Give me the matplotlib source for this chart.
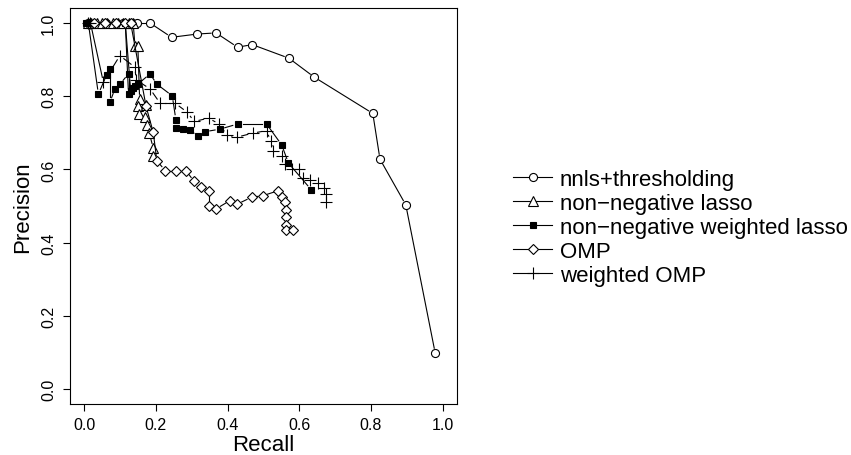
import matplotlib
matplotlib.use('Agg')
import matplotlib.pyplot as plt
from matplotlib.lines import Line2D
import numpy as np

plt.rcParams['font.family'] = ['Liberation Sans', 'DejaVu Sans']

# precision / recall
nnls_recall = [0.01, 0.06, 0.11, 0.135, 0.147, 0.184, 0.244, 0.316, 0.368, 0.428,
               0.469, 0.571, 0.642, 0.805, 0.825, 0.897, 0.979]
nnls_prec = [1.0, 1.0, 1.0, 1.0, 1.0, 1.0, 0.961, 0.970, 0.973, 0.934,
             0.941, 0.904, 0.852, 0.753, 0.628, 0.503, 0.098]

lasso_recall = [0.01, 0.02, 0.035, 0.05, 0.065, 0.08, 0.095, 0.11, 0.125, 0.137,
                0.142, 0.150, 0.155, 0.151, 0.173, 0.153, 0.170, 0.176, 0.182,
                0.193, 0.193]
lasso_prec = [1.0, 1.0, 1.0, 1.0, 1.0, 1.0, 1.0, 1.0, 1.0, 1.0,
              0.938, 0.938, 0.792, 0.772, 0.776, 0.751, 0.742, 0.721, 0.699,
              0.658, 0.638]

wlasso_recall = [0.005, 0.012, 0.040, 0.063, 0.072, 0.072, 0.086, 0.100, 0.124,
                 0.124, 0.115, 0.130, 0.137, 0.143, 0.150, 0.184, 0.203, 0.246,
                 0.256, 0.256, 0.275, 0.296, 0.317, 0.337, 0.379, 0.428, 0.509,
                 0.551, 0.570, 0.633]
wlasso_prec = [1.0, 1.0, 0.806, 0.858, 0.874, 0.783, 0.820, 0.833, 0.861,
               0.806, 1.0, 0.815, 0.822, 0.828, 0.833, 0.861, 0.833, 0.801,
               0.736, 0.713, 0.710, 0.708, 0.690, 0.703, 0.710, 0.724, 0.724,
               0.667, 0.617, 0.545]

omp_recall = [0.028, 0.058, 0.088, 0.115, 0.130, 0.173, 0.193, 0.203, 0.226,
              0.256, 0.284, 0.307, 0.326, 0.347, 0.347, 0.368, 0.407, 0.427,
              0.467, 0.498, 0.542, 0.551, 0.560, 0.562, 0.562, 0.562, 0.562,
              0.582]
omp_prec = [1.0, 1.0, 1.0, 1.0, 1.0, 0.772, 0.701, 0.624, 0.597,
            0.597, 0.597, 0.567, 0.553, 0.542, 0.501, 0.492, 0.515, 0.505,
            0.524, 0.528, 0.542, 0.524, 0.510, 0.490, 0.469, 0.448, 0.434,
            0.434]

womp_recall = [0.010, 0.018, 0.054, 0.100, 0.142, 0.145, 0.184, 0.212, 0.254,
               0.288, 0.307, 0.347, 0.377, 0.398, 0.426, 0.470, 0.509, 0.520,
               0.528, 0.551, 0.560, 0.579, 0.600, 0.611, 0.630, 0.653, 0.669,
               0.675, 0.675]
womp_prec = [1.0, 1.0, 0.838, 0.911, 0.879, 0.845, 0.820, 0.781, 0.781,
             0.756, 0.731, 0.740, 0.724, 0.694, 0.688, 0.699, 0.706, 0.678,
             0.651, 0.636, 0.615, 0.601, 0.600, 0.576, 0.570, 0.562, 0.548,
             0.533, 0.512]

labels = ['nnls+thresholding', 'non\u2212negative lasso',
          'non\u2212negative weighted lasso', 'OMP', 'weighted OMP']


def gapped_line(ax, x, y, gap=5.0, **kw):
    # like R type="b": segments stop short of the points
    pts = ax.transData.transform(np.column_stack([x, y]))
    inv = ax.transData.inverted()
    for p, q in zip(pts[:-1], pts[1:]):
        d = q - p
        n = np.hypot(d[0], d[1])
        if n <= 2 * gap:
            continue
        u = d / n
        a, b = inv.transform([p + u * gap, q - u * gap])
        ax.plot([a[0], b[0]], [a[1], b[1]], color='black', lw=0.8, **kw)


fig = plt.figure(figsize=(8.51, 4.56), dpi=100)
ax = fig.add_axes([0.0823, 0.1127, 0.4544, 0.8667])
ax.set_xlim(-0.039, 1.039)
ax.set_ylim(-0.04, 1.04)

series = [
    (nnls_recall, nnls_prec, dict(marker='o', ms=5.8, mfc='white', mec='black', mew=0.8)),
    (lasso_recall, lasso_prec, dict(marker='^', ms=6.5, mfc='white', mec='black', mew=0.8)),
    (wlasso_recall, wlasso_prec, dict(marker='s', ms=4.8, mfc='black', mec='black', mew=0.8)),
    (omp_recall, omp_prec, dict(marker='D', ms=5.2, mfc='white', mec='black', mew=0.8)),
    (womp_recall, womp_prec, dict(marker='+', ms=8, mfc='none', mec='black', mew=0.8)),
]

for x, y, st in series:
    gapped_line(ax, x, y)
    ax.plot(x, y, ls='none', **st)

ax.set_xticks([0.0, 0.2, 0.4, 0.6, 0.8, 1.0])
ax.set_yticks([0.0, 0.2, 0.4, 0.6, 0.8, 1.0])
ax.set_xticklabels(['0.0', '0.2', '0.4', '0.6', '0.8', '1.0'])
ax.set_yticklabels(['0.0', '0.2', '0.4', '0.6', '0.8', '1.0'])
ax.tick_params(direction='out', length=5, width=0.8, labelsize=11.5, pad=5)
ax.tick_params(axis='y', labelrotation=90)
for lab in ax.get_yticklabels():
    lab.set_va('center')
for s in ax.spines.values():
    s.set_linewidth(0.8)
ax.set_xlabel('Recall', fontsize=16, labelpad=1)
ax.set_ylabel('Precision', fontsize=16, labelpad=6)

handles = [Line2D([0], [0], color='black', lw=0.8, **st) for _, _, st in series]
fig.legend(handles, labels, loc='upper left', bbox_to_anchor=(0.603, 0.627),
           frameon=False, fontsize=16, handlelength=1.75, handletextpad=0.35,
           labelspacing=0.13, borderaxespad=0, borderpad=0)

fig.savefig('out.png', dpi=100)
